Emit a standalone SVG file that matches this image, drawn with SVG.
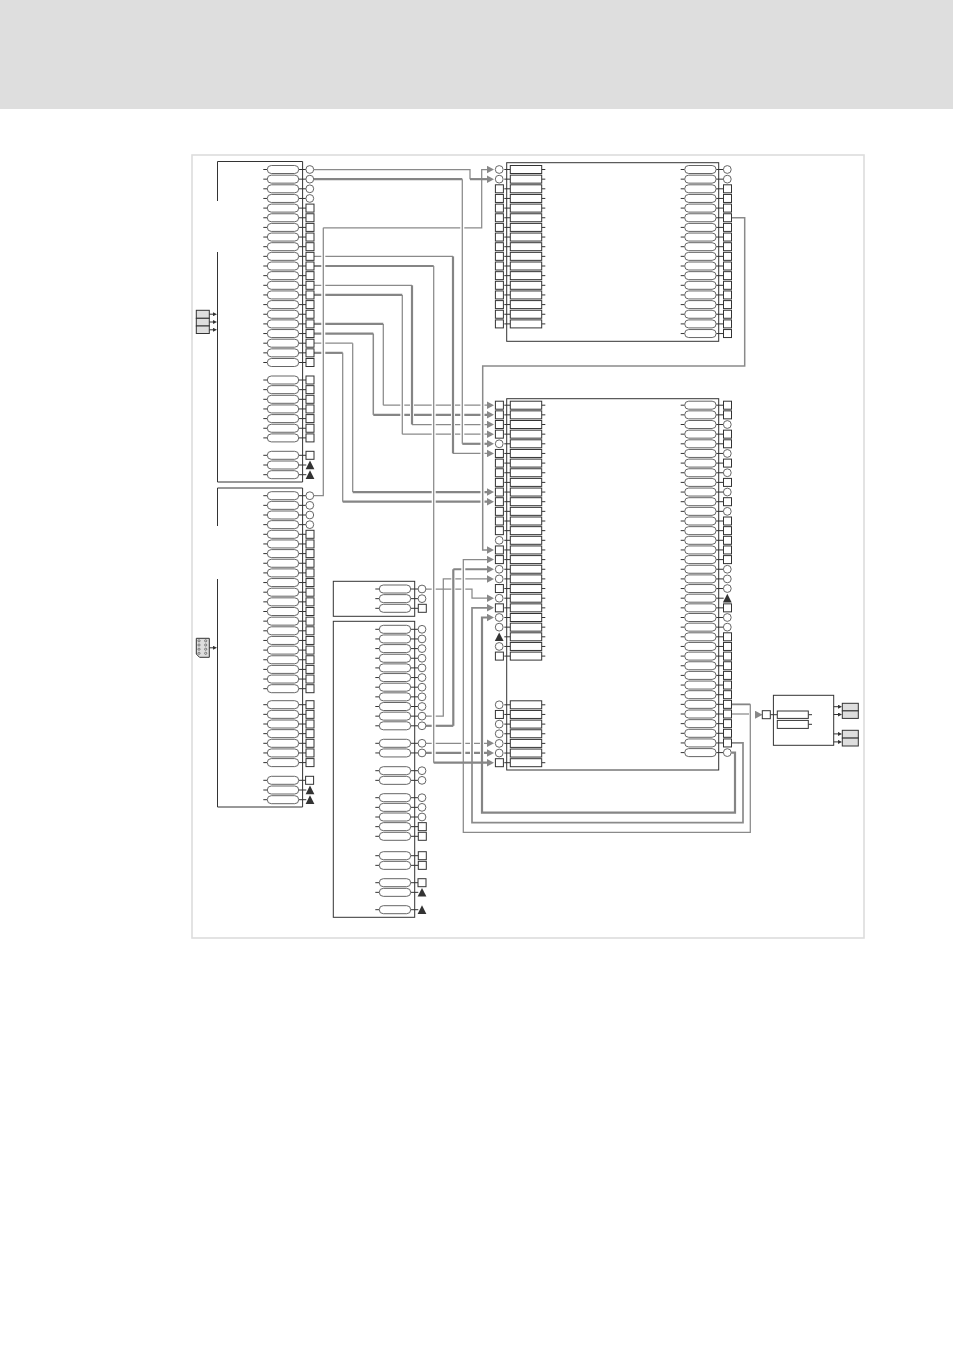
<svg xmlns="http://www.w3.org/2000/svg" width="953" height="1348" viewBox="0 0 953 1348">
<style>
.box{fill:none;stroke:#333;stroke-width:1}
.pill{fill:#fff;stroke:#666;stroke-width:1}
.tick{fill:none;stroke:#333;stroke-width:1}
.port{fill:#fff;stroke:#333;stroke-width:1}
.cport{fill:#fff;stroke:#666;stroke-width:1}
.tri{fill:#333}
.rct{fill:#fff;stroke:#333;stroke-width:1}
.io{fill:#dedede;stroke:#333;stroke-width:1}
.c1{fill:none;stroke:#8a8a8a;stroke-width:1.25}
.c2{fill:none;stroke:#858585;stroke-width:2.2}
.ha{fill:none;stroke:#fff;stroke-width:4}
.ar{fill:#888}
.sa{fill:#333}
</style>
<defs>
<g id="p"><path class="tick" d="M-4 0H0M31.4 0H39"/><rect class="pill" x="0" y="-4" width="31.4" height="8" rx="4"/></g>
<g id="r"><path class="tick" d="M-6 0H0M31.4 0H35"/><rect class="rct" x="0" y="-4" width="31.4" height="8"/></g>
<rect id="s" class="port" x="-4" y="-4" width="8" height="8"/>
<circle id="o" class="cport" r="3.9"/>
<path id="t" class="tri" d="M0 -4.4L4.4 4.2H-4.4Z"/>
<marker id="ah" markerUnits="userSpaceOnUse" markerWidth="7.5" markerHeight="8" viewBox="0 0 7.5 8" refX="0.5" refY="4" orient="auto"><path class="ar" d="M0 0L7.5 4L0 8Z"/></marker>
<marker id="sh" markerUnits="userSpaceOnUse" markerWidth="4" markerHeight="4" viewBox="0 0 4 4" refX="1" refY="2" orient="auto"><path class="sa" d="M0 0L4 2L0 4Z"/></marker>
</defs>
<rect id="header" x="0" y="0" width="953" height="109" fill="#dedede"/>
<rect id="frame" x="192" y="155" width="672" height="783" fill="#fff" stroke="#ddd" stroke-width="1.6"/>
<g id="connectors">
<path class="c1" d="M313.6 256.35H453"/>
<path class="c2" d="M313.6 266H433.7"/>
<path class="c1" d="M313.6 285.3H412"/>
<path class="c2" d="M313.6 294.95H402.3"/>
<path class="c2" d="M313.6 323.9H383.3"/>
<path class="c2" d="M313.6 333.55H373.3"/>
<path class="c1" d="M313.6 343.2H352.7"/>
<path class="c2" d="M313.6 352.85H342.7"/>
<path class="c1" d="M383.3 405.2H487" marker-end="url(#ah)"/>
<path class="c2" d="M373.3 414.85H487" marker-end="url(#ah)"/>
<path class="c1" d="M412 424.5H487" marker-end="url(#ah)"/>
<path class="c1" d="M402.3 434.15H487" marker-end="url(#ah)"/>
<path class="c2" d="M462.3 443.8H487" marker-end="url(#ah)"/>
<path class="c1" d="M453 453.45H487" marker-end="url(#ah)"/>
<path class="c2" d="M352.7 492.05H487" marker-end="url(#ah)"/>
<path class="c2" d="M342.7 501.7H487" marker-end="url(#ah)"/>
<path class="c1" d="M323.3 227.75H481.7V169.5H487" marker-end="url(#ah)"/>
<path class="c1" d="M425.8 589H472V598.2H487" marker-end="url(#ah)"/>
<path class="c1" d="M425.8 716.15H443.3V578.9H487" marker-end="url(#ah)"/>
<path class="c2" d="M425.8 725.8H453.3"/>
<path class="c2" d="M453.3 569.25H487" marker-end="url(#ah)"/>
<path class="c1" d="M425.8 743.3H487" marker-end="url(#ah)"/>
<path class="c2" d="M425.8 752.95H487" marker-end="url(#ah)"/>
<path class="ha" d="M323.3 232V492M402.3 298V430M412 288V420M433.7 270V758M453 260V449M453.3 573V722M462.3 184V439M463.3 564V828M472 612V818M482.5 370V545M482 622V808"/>
<path class="c1" d="M313.6 495.7H323.3V227.75"/>
<path class="c1" d="M313.6 169.5H470V179.15"/>
<path class="c2" d="M470 179.15H487" marker-end="url(#ah)"/>
<path class="c2" d="M313.6 179.15H462.3"/>
<path class="c1" d="M462.3 179.15V443.8"/>
<path class="c2" d="M453 256.35V453.45"/>
<path class="c1" d="M433.7 266V762.7"/>
<path class="c2" d="M433.7 762.7H487" marker-end="url(#ah)"/>
<path class="c2" d="M412 285.3V424.5"/>
<path class="c1" d="M402.3 294.95V434.15"/>
<path class="c1" d="M383.3 323.9V405.2"/>
<path class="c1" d="M373.3 333.55V414.85" style="stroke-width:1.5"/>
<path class="c1" d="M352.7 343.2V492.05"/>
<path class="c1" d="M342.7 352.85V501.7"/>
<path class="c2" d="M453.3 725.8V569.25"/>
<path class="c1" d="M731.3 217.75H744.7V366H482.7V549.95H487" marker-end="url(#ah)" style="stroke-width:1.5"/>
<path class="c2" d="M731.3 704.35H750.3" style="stroke-width:1.8"/>
<path class="c1" d="M750.3 704.35V832.3H463.3V559.6H487" marker-end="url(#ah)"/>
<path class="c1" d="M731.3 742.95H743V822.7H472V607.85H487" marker-end="url(#ah)" style="stroke-width:1.7"/>
<path class="c2" d="M731.3 752.6H735V812.7H482V617.5H487" marker-end="url(#ah)"/>
<path class="c1" d="M731.3 714H749"/>
<path class="c1" d="M755 714.7H755.5" marker-end="url(#ah)"/>
</g>
<g id="input-a">
<rect class="io" x="196.3" y="310.3" width="13" height="8"/><rect class="io" x="196.3" y="318.3" width="13" height="7.7"/><rect class="io" x="196.3" y="326" width="13" height="7.5"/>
<path class="tick" d="M209.3 314.2H214" marker-end="url(#sh)"/><path class="tick" d="M209.3 322H214" marker-end="url(#sh)"/><path class="tick" d="M209.3 329.8H214" marker-end="url(#sh)"/>
</g>
<g id="input-b">
<path class="io" d="M196.3 638.3H209.3V657.3H199.5L196.3 654Z"/>
<g fill="none" stroke="#555" stroke-width=".7"><circle cx="199" cy="640.8" r="1.1"/><circle cx="205.7" cy="640.8" r="1.1"/><circle cx="199" cy="645" r="1.1"/><circle cx="205.7" cy="645" r="1.1"/><circle cx="199" cy="649.2" r="1.1"/><circle cx="205.7" cy="649.2" r="1.1"/><circle cx="199" cy="653.3" r="1.1"/><circle cx="205.7" cy="653.3" r="1.1"/></g>
<path class="tick" d="M209.3 647.8H214" marker-end="url(#sh)"/>
</g>
<g id="block-a">
<path class="box" d="M217.5 201V161.5H302.6V482H217.5V252"/>
<use href="#p" x="267.3" y="169.5"/><use href="#p" x="267.3" y="179.15"/><use href="#p" x="267.3" y="188.8"/><use href="#p" x="267.3" y="198.45"/><use href="#p" x="267.3" y="208.1"/><use href="#p" x="267.3" y="217.75"/><use href="#p" x="267.3" y="227.4"/><use href="#p" x="267.3" y="237.05"/><use href="#p" x="267.3" y="246.7"/><use href="#p" x="267.3" y="256.35"/><use href="#p" x="267.3" y="266"/><use href="#p" x="267.3" y="275.65"/><use href="#p" x="267.3" y="285.3"/><use href="#p" x="267.3" y="294.95"/><use href="#p" x="267.3" y="304.6"/><use href="#p" x="267.3" y="314.25"/><use href="#p" x="267.3" y="323.9"/><use href="#p" x="267.3" y="333.55"/><use href="#p" x="267.3" y="343.2"/><use href="#p" x="267.3" y="352.85"/><use href="#p" x="267.3" y="362.5"/>
<use href="#p" x="267.3" y="380"/><use href="#p" x="267.3" y="389.65"/><use href="#p" x="267.3" y="399.3"/><use href="#p" x="267.3" y="408.95"/><use href="#p" x="267.3" y="418.6"/><use href="#p" x="267.3" y="428.25"/><use href="#p" x="267.3" y="437.9"/>
<use href="#p" x="267.3" y="455.3"/><use href="#p" x="267.3" y="465"/><use href="#p" x="267.3" y="474.7"/>
<use href="#o" x="309.8" y="169.5"/><use href="#o" x="309.8" y="179.15"/><use href="#o" x="309.8" y="188.8"/><use href="#o" x="309.8" y="198.45"/><use href="#s" x="310" y="208.1"/><use href="#s" x="310" y="217.75"/><use href="#s" x="310" y="227.4"/><use href="#s" x="310" y="237.05"/><use href="#s" x="310" y="246.7"/><use href="#s" x="310" y="256.35"/><use href="#s" x="310" y="266"/><use href="#s" x="310" y="275.65"/><use href="#s" x="310" y="285.3"/><use href="#s" x="310" y="294.95"/><use href="#s" x="310" y="304.6"/><use href="#s" x="310" y="314.25"/><use href="#s" x="310" y="323.9"/><use href="#s" x="310" y="333.55"/><use href="#s" x="310" y="343.2"/><use href="#s" x="310" y="352.85"/><use href="#s" x="310" y="362.5"/>
<use href="#s" x="310" y="380"/><use href="#s" x="310" y="389.65"/><use href="#s" x="310" y="399.3"/><use href="#s" x="310" y="408.95"/><use href="#s" x="310" y="418.6"/><use href="#s" x="310" y="428.25"/><use href="#s" x="310" y="437.9"/>
<use href="#s" x="310" y="455.3"/><use href="#t" x="310" y="465"/><use href="#t" x="310" y="474.7"/>
</g>
<g id="block-b">
<path class="box" d="M217.5 526V488H302.6V807H217.5V579"/>
<use href="#p" x="267.3" y="495.7"/><use href="#p" x="267.3" y="505.35"/><use href="#p" x="267.3" y="515"/><use href="#p" x="267.3" y="524.65"/><use href="#p" x="267.3" y="534.3"/><use href="#p" x="267.3" y="543.95"/><use href="#p" x="267.3" y="553.6"/><use href="#p" x="267.3" y="563.25"/><use href="#p" x="267.3" y="572.9"/><use href="#p" x="267.3" y="582.55"/><use href="#p" x="267.3" y="592.2"/><use href="#p" x="267.3" y="601.85"/><use href="#p" x="267.3" y="611.5"/><use href="#p" x="267.3" y="621.15"/><use href="#p" x="267.3" y="630.8"/><use href="#p" x="267.3" y="640.45"/><use href="#p" x="267.3" y="650.1"/><use href="#p" x="267.3" y="659.75"/><use href="#p" x="267.3" y="669.4"/><use href="#p" x="267.3" y="679.05"/><use href="#p" x="267.3" y="688.7"/>
<use href="#p" x="267.3" y="704.7"/><use href="#p" x="267.3" y="714.35"/><use href="#p" x="267.3" y="724"/><use href="#p" x="267.3" y="733.65"/><use href="#p" x="267.3" y="743.3"/><use href="#p" x="267.3" y="752.95"/><use href="#p" x="267.3" y="762.6"/>
<use href="#p" x="267.3" y="780.3"/><use href="#p" x="267.3" y="790"/><use href="#p" x="267.3" y="799.7"/>
<use href="#o" x="309.8" y="495.7"/><use href="#o" x="309.8" y="505.35"/><use href="#o" x="309.8" y="515"/><use href="#o" x="309.8" y="524.65"/><use href="#s" x="310" y="534.3"/><use href="#s" x="310" y="543.95"/><use href="#s" x="310" y="553.6"/><use href="#s" x="310" y="563.25"/><use href="#s" x="310" y="572.9"/><use href="#s" x="310" y="582.55"/><use href="#s" x="310" y="592.2"/><use href="#s" x="310" y="601.85"/><use href="#s" x="310" y="611.5"/><use href="#s" x="310" y="621.15"/><use href="#s" x="310" y="630.8"/><use href="#s" x="310" y="640.45"/><use href="#s" x="310" y="650.1"/><use href="#s" x="310" y="659.75"/><use href="#s" x="310" y="669.4"/><use href="#s" x="310" y="679.05"/><use href="#s" x="310" y="688.7"/>
<use href="#s" x="310" y="704.7"/><use href="#s" x="310" y="714.35"/><use href="#s" x="310" y="724"/><use href="#s" x="310" y="733.65"/><use href="#s" x="310" y="743.3"/><use href="#s" x="310" y="752.95"/><use href="#s" x="310" y="762.6"/>
<use href="#s" x="309.6" y="780.3"/><use href="#t" x="310" y="790"/><use href="#t" x="310" y="799.7"/>
</g>
<g id="block-c">
<rect class="box" x="333.3" y="581.3" width="81.4" height="35"/>
<use href="#p" x="379.3" y="589"/><use href="#p" x="379.3" y="598.65"/><use href="#p" x="379.3" y="608.3"/>
<use href="#o" x="422" y="589"/><use href="#o" x="422" y="598.65"/><use href="#s" x="422.3" y="608.3"/>
</g>
<g id="block-d">
<rect class="box" x="333.3" y="621.3" width="81.4" height="296"/>
<use href="#p" x="379.3" y="629.3"/><use href="#p" x="379.3" y="638.95"/><use href="#p" x="379.3" y="648.6"/><use href="#p" x="379.3" y="658.25"/><use href="#p" x="379.3" y="667.9"/><use href="#p" x="379.3" y="677.55"/><use href="#p" x="379.3" y="687.2"/><use href="#p" x="379.3" y="696.85"/><use href="#p" x="379.3" y="706.5"/><use href="#p" x="379.3" y="716.15"/><use href="#p" x="379.3" y="725.8"/>
<use href="#p" x="379.3" y="743.3"/><use href="#p" x="379.3" y="752.95"/><use href="#p" x="379.3" y="770.7"/><use href="#p" x="379.3" y="780.35"/>
<use href="#p" x="379.3" y="797.7"/><use href="#p" x="379.3" y="807.35"/><use href="#p" x="379.3" y="817"/><use href="#p" x="379.3" y="826.65"/><use href="#p" x="379.3" y="836.3"/>
<use href="#p" x="379.3" y="855.7"/><use href="#p" x="379.3" y="865.35"/><use href="#p" x="379.3" y="882.7"/><use href="#p" x="379.3" y="892.35"/><use href="#p" x="379.3" y="909.7"/>
<use href="#o" x="422" y="629.3"/><use href="#o" x="422" y="638.95"/><use href="#o" x="422" y="648.6"/><use href="#o" x="422" y="658.25"/><use href="#o" x="422" y="667.9"/><use href="#o" x="422" y="677.55"/><use href="#o" x="422" y="687.2"/><use href="#o" x="422" y="696.85"/><use href="#o" x="422" y="706.5"/><use href="#o" x="422" y="716.15"/><use href="#o" x="422" y="725.8"/>
<use href="#o" x="422" y="743.3"/><use href="#o" x="422" y="752.95"/><use href="#o" x="422" y="770.7"/><use href="#o" x="422" y="780.35"/>
<use href="#o" x="422" y="797.7"/><use href="#o" x="422" y="807.35"/><use href="#o" x="422" y="817"/><use href="#s" x="422.3" y="826.65"/><use href="#s" x="422.3" y="836.3"/>
<use href="#s" x="422.3" y="855.7"/><use href="#s" x="422.3" y="865.35"/><use href="#s" x="422" y="882.7"/><use href="#t" x="422" y="892.35"/><use href="#t" x="422" y="909.7"/>
</g>
<g id="mid-top">
<rect class="box" x="506.7" y="162.7" width="212" height="178.6"/>
<use href="#r" x="510.3" y="169.5"/><use href="#r" x="510.3" y="179.15"/><use href="#r" x="510.3" y="188.8"/><use href="#r" x="510.3" y="198.45"/><use href="#r" x="510.3" y="208.1"/><use href="#r" x="510.3" y="217.75"/><use href="#r" x="510.3" y="227.4"/><use href="#r" x="510.3" y="237.05"/><use href="#r" x="510.3" y="246.7"/><use href="#r" x="510.3" y="256.35"/><use href="#r" x="510.3" y="266"/><use href="#r" x="510.3" y="275.65"/><use href="#r" x="510.3" y="285.3"/><use href="#r" x="510.3" y="294.95"/><use href="#r" x="510.3" y="304.6"/><use href="#r" x="510.3" y="314.25"/><use href="#r" x="510.3" y="323.9"/>
<use href="#o" x="499.2" y="169.5"/><use href="#o" x="499.2" y="179.15"/><use href="#s" x="499.4" y="188.8"/><use href="#s" x="499.4" y="198.45"/><use href="#s" x="499.4" y="208.1"/><use href="#s" x="499.4" y="217.75"/><use href="#s" x="499.4" y="227.4"/><use href="#s" x="499.4" y="237.05"/><use href="#s" x="499.4" y="246.7"/><use href="#s" x="499.4" y="256.35"/><use href="#s" x="499.4" y="266"/><use href="#s" x="499.4" y="275.65"/><use href="#s" x="499.4" y="285.3"/><use href="#s" x="499.4" y="294.95"/><use href="#s" x="499.4" y="304.6"/><use href="#s" x="499.4" y="314.25"/><use href="#s" x="499.4" y="323.9"/>
<use href="#p" x="684.7" y="169.5"/><use href="#p" x="684.7" y="179.15"/><use href="#p" x="684.7" y="188.8"/><use href="#p" x="684.7" y="198.45"/><use href="#p" x="684.7" y="208.1"/><use href="#p" x="684.7" y="217.75"/><use href="#p" x="684.7" y="227.4"/><use href="#p" x="684.7" y="237.05"/><use href="#p" x="684.7" y="246.7"/><use href="#p" x="684.7" y="256.35"/><use href="#p" x="684.7" y="266"/><use href="#p" x="684.7" y="275.65"/><use href="#p" x="684.7" y="285.3"/><use href="#p" x="684.7" y="294.95"/><use href="#p" x="684.7" y="304.6"/><use href="#p" x="684.7" y="314.25"/><use href="#p" x="684.7" y="323.9"/><use href="#p" x="684.7" y="333.55"/>
<use href="#o" x="727.3" y="169.5"/><use href="#o" x="727.3" y="179.15"/><use href="#s" x="727.5" y="188.8"/><use href="#s" x="727.5" y="198.45"/><use href="#s" x="727.5" y="208.1"/><use href="#s" x="727.5" y="217.75"/><use href="#s" x="727.5" y="227.4"/><use href="#s" x="727.5" y="237.05"/><use href="#s" x="727.5" y="246.7"/><use href="#s" x="727.5" y="256.35"/><use href="#s" x="727.5" y="266"/><use href="#s" x="727.5" y="275.65"/><use href="#s" x="727.5" y="285.3"/><use href="#s" x="727.5" y="294.95"/><use href="#s" x="727.5" y="304.6"/><use href="#s" x="727.5" y="314.25"/><use href="#s" x="727.5" y="323.9"/><use href="#s" x="727.5" y="333.55"/>
</g>
<g id="mid-big">
<rect class="box" x="506.7" y="398.7" width="212" height="371.3"/>
<use href="#r" x="510.3" y="405.2"/><use href="#r" x="510.3" y="414.85"/><use href="#r" x="510.3" y="424.5"/><use href="#r" x="510.3" y="434.15"/><use href="#r" x="510.3" y="443.8"/><use href="#r" x="510.3" y="453.45"/><use href="#r" x="510.3" y="463.1"/><use href="#r" x="510.3" y="472.75"/><use href="#r" x="510.3" y="482.4"/><use href="#r" x="510.3" y="492.05"/><use href="#r" x="510.3" y="501.7"/><use href="#r" x="510.3" y="511.35"/><use href="#r" x="510.3" y="521"/><use href="#r" x="510.3" y="530.65"/><use href="#r" x="510.3" y="540.3"/><use href="#r" x="510.3" y="549.95"/><use href="#r" x="510.3" y="559.6"/><use href="#r" x="510.3" y="569.25"/><use href="#r" x="510.3" y="578.9"/><use href="#r" x="510.3" y="588.55"/><use href="#r" x="510.3" y="598.2"/><use href="#r" x="510.3" y="607.85"/><use href="#r" x="510.3" y="617.5"/><use href="#r" x="510.3" y="627.15"/><use href="#r" x="510.3" y="636.8"/><use href="#r" x="510.3" y="646.45"/><use href="#r" x="510.3" y="656.1"/>
<use href="#r" x="510.3" y="704.8"/><use href="#r" x="510.3" y="714.45"/><use href="#r" x="510.3" y="724.1"/><use href="#r" x="510.3" y="733.75"/><use href="#r" x="510.3" y="743.4"/><use href="#r" x="510.3" y="753.05"/><use href="#r" x="510.3" y="762.7"/>
<use href="#s" x="499.4" y="405.2"/><use href="#s" x="499.4" y="414.85"/><use href="#s" x="499.4" y="424.5"/><use href="#s" x="499.4" y="434.15"/><use href="#o" x="499.2" y="443.8"/><use href="#s" x="499.4" y="453.45"/><use href="#s" x="499.4" y="463.1"/><use href="#s" x="499.4" y="472.75"/><use href="#s" x="499.4" y="482.4"/><use href="#s" x="499.4" y="492.05"/><use href="#s" x="499.4" y="501.7"/><use href="#s" x="499.4" y="511.35"/><use href="#s" x="499.4" y="521"/><use href="#s" x="499.4" y="530.65"/><use href="#o" x="499.2" y="540.3"/><use href="#s" x="499.4" y="549.95"/><use href="#s" x="499.4" y="559.6"/><use href="#o" x="499.2" y="569.25"/><use href="#o" x="499.2" y="578.9"/><use href="#s" x="499.4" y="588.55"/><use href="#o" x="499.2" y="598.2"/><use href="#s" x="499.4" y="607.85"/><use href="#o" x="499.2" y="617.5"/><use href="#o" x="499.2" y="627.15"/><use href="#t" x="499.2" y="636.8"/><use href="#o" x="499.2" y="646.45"/><use href="#s" x="499.4" y="656.1"/>
<use href="#o" x="499.2" y="704.8"/><use href="#s" x="499.4" y="714.45"/><use href="#o" x="499.2" y="724.1"/><use href="#o" x="499.2" y="733.75"/><use href="#o" x="499.2" y="743.4"/><use href="#o" x="499.2" y="753.05"/><use href="#s" x="499.4" y="762.7"/>
<use href="#p" x="684.7" y="405.2"/><use href="#p" x="684.7" y="414.85"/><use href="#p" x="684.7" y="424.5"/><use href="#p" x="684.7" y="434.15"/><use href="#p" x="684.7" y="443.8"/><use href="#p" x="684.7" y="453.45"/><use href="#p" x="684.7" y="463.1"/><use href="#p" x="684.7" y="472.75"/><use href="#p" x="684.7" y="482.4"/><use href="#p" x="684.7" y="492.05"/><use href="#p" x="684.7" y="501.7"/><use href="#p" x="684.7" y="511.35"/><use href="#p" x="684.7" y="521"/><use href="#p" x="684.7" y="530.65"/><use href="#p" x="684.7" y="540.3"/><use href="#p" x="684.7" y="549.95"/><use href="#p" x="684.7" y="559.6"/><use href="#p" x="684.7" y="569.25"/><use href="#p" x="684.7" y="578.9"/><use href="#p" x="684.7" y="588.55"/><use href="#p" x="684.7" y="598.2"/><use href="#p" x="684.7" y="607.85"/><use href="#p" x="684.7" y="617.5"/><use href="#p" x="684.7" y="627.15"/><use href="#p" x="684.7" y="636.8"/><use href="#p" x="684.7" y="646.45"/><use href="#p" x="684.7" y="656.1"/><use href="#p" x="684.7" y="665.75"/><use href="#p" x="684.7" y="675.4"/><use href="#p" x="684.7" y="685.05"/><use href="#p" x="684.7" y="694.7"/><use href="#p" x="684.7" y="704.35"/><use href="#p" x="684.7" y="714"/><use href="#p" x="684.7" y="723.65"/><use href="#p" x="684.7" y="733.3"/><use href="#p" x="684.7" y="742.95"/><use href="#p" x="684.7" y="752.6"/>
<use href="#s" x="727.5" y="405.2"/><use href="#s" x="727.5" y="414.85"/><use href="#o" x="727.3" y="424.5"/><use href="#s" x="727.5" y="434.15"/><use href="#s" x="727.5" y="443.8"/><use href="#o" x="727.3" y="453.45"/><use href="#s" x="727.5" y="463.1"/><use href="#o" x="727.3" y="472.75"/><use href="#s" x="727.5" y="482.4"/><use href="#o" x="727.3" y="492.05"/><use href="#s" x="727.5" y="501.7"/><use href="#o" x="727.3" y="511.35"/><use href="#s" x="727.5" y="521"/><use href="#s" x="727.5" y="530.65"/><use href="#s" x="727.5" y="540.3"/><use href="#s" x="727.5" y="549.95"/><use href="#s" x="727.5" y="559.6"/><use href="#o" x="727.3" y="569.25"/><use href="#o" x="727.3" y="578.9"/><use href="#o" x="727.3" y="588.55"/><use href="#t" x="727.3" y="598.2"/><use href="#s" x="727.5" y="607.85"/><use href="#o" x="727.3" y="617.5"/><use href="#o" x="727.3" y="627.15"/><use href="#s" x="727.5" y="636.8"/><use href="#s" x="727.5" y="646.45"/><use href="#s" x="727.5" y="656.1"/><use href="#s" x="727.5" y="665.75"/><use href="#s" x="727.5" y="675.4"/><use href="#s" x="727.5" y="685.05"/><use href="#s" x="727.5" y="694.7"/><use href="#s" x="727.5" y="704.35"/><use href="#s" x="727.5" y="714"/><use href="#s" x="727.5" y="723.65"/><use href="#s" x="727.5" y="733.3"/><use href="#s" x="727.5" y="742.95"/><use href="#o" x="727.3" y="752.6"/>
</g>
<g id="out-block">
<rect class="box" x="773.4" y="695.3" width="60.3" height="50"/>
<path class="tick" d="M770.3 714.7H777.3M808.3 714.7H812M808.3 724.3H812"/>
<rect class="rct" x="777.3" y="711" width="31" height="7.4"/><rect class="rct" x="777.3" y="720.4" width="31" height="8"/>
<use href="#s" x="766.3" y="714.7"/>
</g>
<g id="out-a">
<rect class="io" x="842.3" y="703.3" width="16" height="7.6"/><rect class="io" x="842.3" y="710.9" width="16" height="7.5"/>
<path class="tick" d="M833.7 706.7H839" marker-end="url(#sh)"/><path class="tick" d="M833.7 714.5H839" marker-end="url(#sh)"/>
</g>
<g id="out-b">
<rect class="io" x="842.3" y="730.3" width="16" height="7.8"/><rect class="io" x="842.3" y="738.1" width="16" height="7.9"/>
<path class="tick" d="M833.7 733.9H839" marker-end="url(#sh)"/><path class="tick" d="M833.7 741.9H839" marker-end="url(#sh)"/>
</g>
</svg>
